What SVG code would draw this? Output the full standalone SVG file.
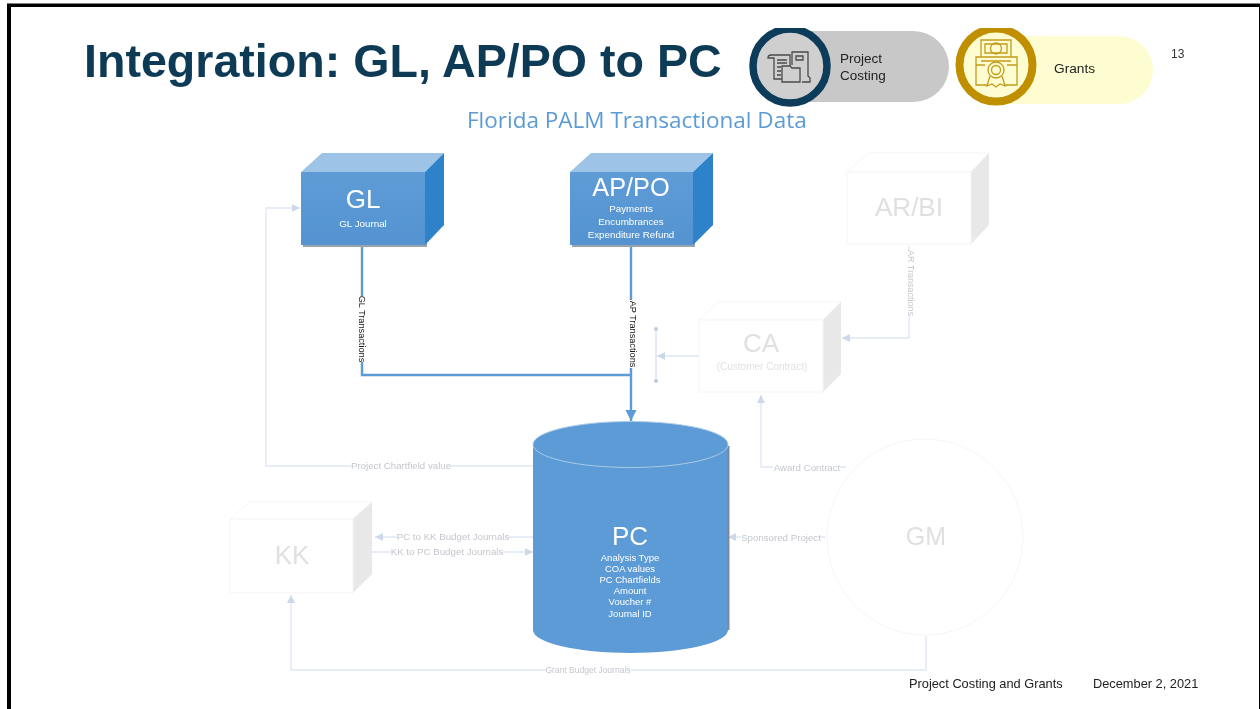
<svg xmlns="http://www.w3.org/2000/svg" width="1260" height="709" viewBox="0 0 1260 709">
<style>
.s{font-family:"Liberation Sans",Arial,sans-serif}
.o{font-family:"Open Sans","Noto Sans",sans-serif}
.m{text-anchor:middle}
.w{fill:#fff}
.f{fill:#fff;stroke:#f5f5f5;stroke-width:1}
.pale{fill:none;stroke:#dfe7f3;stroke-width:1.3}
.strong{fill:none;stroke:#5b9bd5;stroke-width:2.4}
.lab{font-size:9.7px;fill:#c3c6cc}
.ghost{fill:#e0e0e0}
.dl{font-size:9.2px;fill:#1a1a1a}
.sub{font-size:9.8px}
.ic{fill:none;stroke-width:1.3}
</style>
<defs>
<marker id="pa" markerWidth="9" markerHeight="8" refX="8" refY="4" orient="auto" markerUnits="userSpaceOnUse"><path d="M0 0L8 4L0 8z" fill="#cdd9ea"/></marker>
<marker id="sa" markerWidth="12" markerHeight="12" refX="11" refY="5.5" orient="auto" markerUnits="userSpaceOnUse"><path d="M0 0L11 5.5L0 11z" fill="#5b9bd5"/></marker>
<linearGradient id="fr" x1="0" y1="0" x2="0" y2="1"><stop offset="0" stop-color="#5e9cd6"/><stop offset="1" stop-color="#5493d1"/></linearGradient>
<filter id="soft" x="0" y="0" width="100%" height="100%"><feGaussianBlur stdDeviation="0.45"/></filter>
</defs>
<rect width="1260" height="709" fill="#fff"/>
<g filter="url(#soft)">
<g id="title"><text class="s" x="84" y="77" font-size="46.6" font-weight="700" fill="#0f3a57">Integration: GL, AP/PO to PC</text>
<text class="o" x="467" y="128" font-size="22.5" fill="#5b9bd5">Florida PALM Transactional Data</text></g>
<g id="badge-project-costing">
<rect x="770" y="31" width="179" height="71" rx="35.5" fill="#c9c8c9"/>
<circle cx="790" cy="66" r="37" fill="#d0cfd0" stroke="#0d3a5a" stroke-width="7.500"/>
<g class="ic" stroke="#4b4b4b"><path d="M768 58q0-3 3-3h19v24h-16V58zM768 58h6M777 60h10M777 63h10M777 67h4M777 71h4M777 75h4"/><path d="M792 65V52h16v24l2 2v4h-8M796 56h7v4h-7z"/><path d="M782 82V66h8l2 2h8v14z" fill="#d0cfd0"/></g>
<text class="s" x="840" y="63" font-size="13.500" fill="#222">Project</text>
<text class="s" x="840" y="80" font-size="13.500" fill="#222">Costing</text>
</g>
<g id="badge-grants">
<rect x="975" y="36" width="178" height="68" rx="34" fill="#fdfdd1"/>
<circle cx="996" cy="65" r="36.500" fill="#fdfdd1" stroke="#bf8f00" stroke-width="8"/>
<g class="ic" stroke="#c49a1a"><path d="M981 40h30v17h-30zM985 44h22v9h-22zM981 57h-5v28h12M1011 57h6v28h-13M981 61h30M976 65h9M1007 65h10"/><circle cx="996" cy="48.500" r="5.500"/><circle cx="996" cy="70" r="8" fill="#fdfdd1"/><circle cx="996" cy="70" r="4.500"/><path d="M990 76l-3 10 5-2 4 3 4-3 5 2-3-10"/></g>
<text class="s" x="1054" y="73" font-size="13.700" fill="#222">Grants</text>
</g>
<text id="page" class="s" x="1171" y="58" font-size="12" fill="#333">13</text>

<g id="connectors">
<path class="pale" d="M533 466H266V208H300" marker-end="url(#pa)"/>
<path class="pale" d="M533 537H375" marker-end="url(#pa)"/>
<path class="pale" d="M372 552H533" marker-end="url(#pa)"/>
<path class="pale" d="M825 537H728" marker-end="url(#pa)"/>
<path class="pale" d="M846 467H761V395" marker-end="url(#pa)"/>
<path class="pale" d="M909 246V338H842" marker-end="url(#pa)"/>
<path class="pale" d="M699 356H657" marker-end="url(#pa)"/>
<path d="M656 329V382" fill="none" stroke="#d5dcea" stroke-width="1.2"/>
<circle cx="656" cy="329" r="2" fill="#bccbe0"/><circle cx="656" cy="381" r="2" fill="#bccbe0"/>
<path class="pale" d="M926 636V670H291V595" marker-end="url(#pa)"/>
<path class="strong" d="M362 245V375H631"/>
<path class="strong" d="M631 245V421" marker-end="url(#sa)"/>
</g>

<g id="node-gl">
<path d="M303 174H427V247H303z" fill="#9aa3ad"/>
<path d="M301 172L322 153H444L425 172z" fill="#9dc3e6"/><path d="M425 172L444 153V225L425 245z" fill="#2e82ca"/>
<rect x="301" y="172" width="124" height="73" fill="url(#fr)"/>
<text class="s m w" x="363" y="208" font-size="26">GL</text><text class="s m w sub" x="363" y="227">GL Journal</text>
</g>
<g id="node-appo">
<path d="M572 174H695V247H572z" fill="#9aa3ad"/>
<path d="M570 172L591 153H713L693 172z" fill="#9dc3e6"/><path d="M693 172L713 153V225L693 245z" fill="#2e82ca"/>
<rect x="570" y="172" width="123" height="73" fill="url(#fr)"/>
<text class="s m w" x="631" y="196" font-size="25.3">AP/PO</text>
<text class="s m w sub" x="631" y="212">Payments</text><text class="s m w sub" x="631" y="225">Encumbrances</text><text class="s m w sub" x="631" y="238">Expenditure Refund</text>
</g>
<g id="node-arbi">
<path class="f" d="M847 172L868 153H989L971 172z"/><path d="M971 172L989 153V225L971 244z" fill="#e8e8e8"/>
<rect class="f" x="847" y="172" width="124" height="72"/>
<text class="s m ghost" x="909" y="216" font-size="26">AR/BI</text>
</g>
<g id="node-ca">
<path class="f" d="M699 320L718 302H841L823 320z"/><path d="M823 320L841 302V374L823 392z" fill="#e8e8e8"/>
<rect class="f" x="699" y="320" width="124" height="72"/>
<text class="s m ghost" x="761" y="352" font-size="26">CA</text><text class="s m" x="762" y="370" font-size="10" fill="#e2e2e2">(Customer Contract)</text>
</g>
<g id="node-kk">
<path class="f" d="M230 519L250 502H372L353 519z"/><path d="M353 519L372 502V574L353 593z" fill="#e8e8e8"/>
<rect class="f" x="230" y="519" width="123" height="74"/>
<text class="s m ghost" x="292" y="564" font-size="26">KK</text>
</g>
<g id="node-gm">
<circle class="f" cx="925" cy="537" r="98"/>
<text class="s m ghost" x="926" y="545" font-size="25">GM</text>
</g>
<g id="node-pc">
<path d="M533 444V630A97.5 23 0 0 0 728 630V444z" fill="#5b9bd5"/>
<path d="M728.500 446V630" stroke="#7f8a99" stroke-width="2" fill="none"/>
<ellipse cx="630.500" cy="444.500" rx="97.500" ry="23" fill="#5b9bd5" stroke="#a9cbe9" stroke-width="1"/>
<text class="s m w" x="630" y="545" font-size="26">PC</text>
<text class="s m w" x="630" y="561" font-size="9.500">Analysis Type</text><text class="s m w" x="630" y="572" font-size="9.500">COA values</text><text class="s m w" x="630" y="583" font-size="9.500">PC Chartfields</text><text class="s m w" x="630" y="594" font-size="9.500">Amount</text><text class="s m w" x="630" y="605" font-size="9.500">Voucher #</text><text class="s m w" x="630" y="617" font-size="9.500">Journal ID</text>
</g>

<g id="connector-labels">
<rect x="351" y="461" width="100" height="10" fill="#fff"/><text class="s m lab" x="401" y="469">Project Chartfield value</text>
<rect x="397" y="532" width="112" height="10" fill="#fff"/><text class="s m lab" x="453" y="540">PC to KK Budget Journals</text>
<rect x="391" y="547" width="112" height="10" fill="#fff"/><text class="s m lab" x="447" y="555">KK to PC Budget Journals</text>
<rect x="741" y="532" width="79" height="10" fill="#fff"/><text class="s m lab" x="781" y="541">Sponsored Project</text>
<rect x="773" y="462" width="67" height="10" fill="#fff"/><text class="s m lab" x="807" y="471">Award Contract</text>
<rect x="546" y="665" width="84" height="10" fill="#fff"/><text class="s m lab" x="588" y="673" style="font-size:8.5px">Grant Budget Journals</text>
<rect x="904" y="250" width="10" height="66" fill="#fff"/><text class="s m lab" transform="translate(908 283) rotate(90)" style="font-size:9px">AR Transactions</text>
<rect x="357" y="296" width="10" height="66" fill="#fff"/><text class="s m dl" transform="translate(359 329) rotate(90)">GL Transactions</text>
<rect x="626" y="300" width="10" height="68" fill="#fff"/><text class="s m dl" transform="translate(630 334) rotate(90)">AP Transactions</text>
</g>

<g id="footer">
<text class="s" x="909" y="688" font-size="12.800" fill="#222">Project Costing and Grants</text>
<text class="s" x="1093" y="688" font-size="12.800" fill="#222">December 2, 2021</text>
</g>
</g>
<g id="frame"><path d="M7 709V3.500H1260V709H1259V7H11V709z" fill="#000"/></g>
</svg>
